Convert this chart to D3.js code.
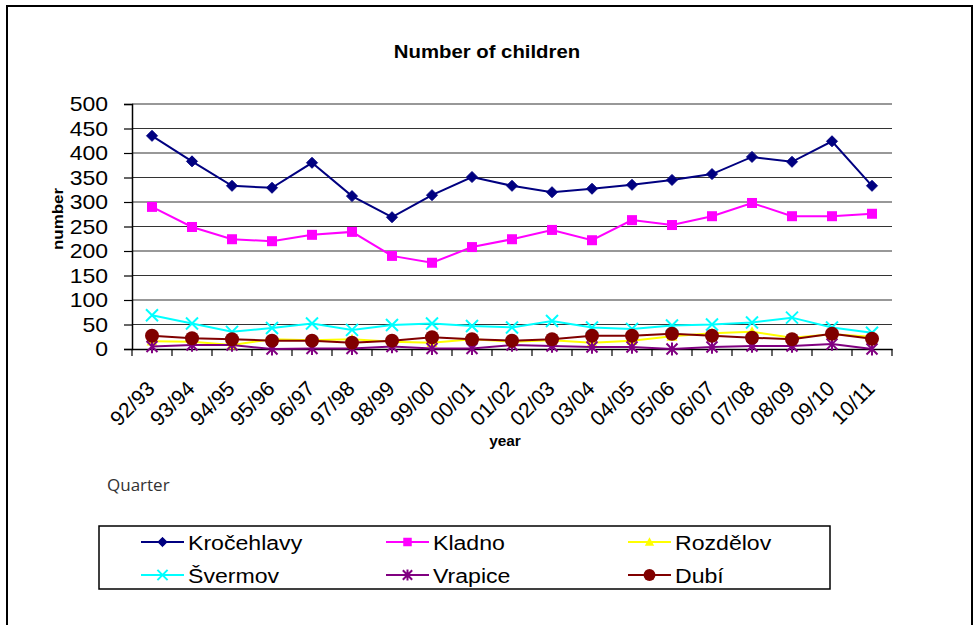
<!DOCTYPE html>
<html><head><meta charset="utf-8">
<script src="https://cdn.jsdelivr.net/npm/d3@7"></script>
<style>html,body{margin:0;padding:0;background:#fff;}svg{display:block;}</style>
</head><body>
<svg id="c" width="974" height="625"></svg>
<script>
const categories = ["92/93","93/94","94/95","95/96","96/97","97/98","98/99","99/00","00/01","01/02","02/03","03/04","04/05","05/06","06/07","07/08","08/09","09/10","10/11"];
const krocehlavy = [435,383,333,329,380,312,269,314,351,333,320,327,335,345,357,392,382,424,333];
const kladno     = [290,249,224,220,233,239,190,176,208,224,243,222,263,253,271,298,271,271,276];
const rozdelov   = [16,15,8,20,18,20,15,13,20,15,18,13,17,26,32,35,23,30,25];
const svermov    = [69,52,35,43,52,39,49,52,47,44,57,44,41,48,50,54,64,44,33];
const vrapice    = [5,8,8,0,1,1,5,1,1,8,6,4,4,0,4,6,6,10,0];
const dubi       = [27,22,20,17,17,13,17,24,20,17,20,27,27,31,27,23,20,31,21];
const yTicks = [0,50,100,150,200,250,300,350,400,450,500];
const seriesNames = ["Kročehlavy","Kladno","Rozdělov","Švermov","Vrapice","Dubí"];
const seriesColors = ["#000080","#FF00FF","#FFFF00","#00FFFF","#800080","#800000"];
const seriesMarkers = ["diamond","square","triangle","x","star","circle"];
const seriesValues = [krocehlavy,kladno,rozdelov,svermov,vrapice,dubi];

const svg = d3.select("#c");
const F = "Liberation Sans, Arial, sans-serif";
const SX = 1.15;

// outer frame
svg.append("rect").attr("x",7).attr("y",6).attr("width",965).attr("height",640)
  .attr("fill","none").attr("stroke","#000").attr("stroke-width",2);

const x = d3.scaleBand().domain(categories).range([132,892]).padding(0);
const y = d3.scaleLinear().domain([0,500]).range([349,104]);
const cx = d => x(d) + x.bandwidth()/2;

function stext(g, tx, ty, txt, size, opts={}) {
  const t = g.append("text").attr("transform",`translate(${tx},${ty}) scale(${opts.sx||SX},1)`)
    .attr("font-family",F).attr("font-size",size).attr("fill","#000")
    .attr("text-anchor",opts.anchor||"start").text(txt);
  if (opts.bold) t.attr("font-weight","bold");
  if (opts.dy) t.attr("dy",opts.dy);
  return t;
}

// title
stext(svg, 487, 58, "Number of children", 18, {anchor:"middle", bold:true, sx:1.13});

// gridlines
svg.append("g").selectAll("line").data(yTicks.filter(v=>v>0)).join("line")
  .attr("x1",132).attr("x2",892).attr("y1",d=>y(d)).attr("y2",d=>y(d))
  .attr("stroke","#333").attr("stroke-width",1.2);

// y axis
const yAxis = svg.append("g").attr("transform","translate(132,0)")
  .call(d3.axisLeft(y).tickValues(yTicks).tickSize(8).tickFormat(""));
yAxis.select(".domain").attr("stroke","#000").attr("stroke-width",1.5);
yAxis.selectAll(".tick line").attr("stroke","#000").attr("stroke-width",1.2);
const yl = svg.append("g");
yTicks.forEach(v => stext(yl, 108, y(v), String(v), 20, {anchor:"end", dy:"0.36em"}));

// x axis
const xAxis = svg.append("g").attr("transform","translate(0,349)")
  .call(d3.axisBottom(x).tickSize(0).tickFormat(""));
xAxis.select(".domain").attr("stroke","#000").attr("stroke-width",1.5);
svg.append("g").selectAll("line").data(d3.range(categories.length+1)).join("line")
  .attr("x1",i=>132+i*x.bandwidth()).attr("x2",i=>132+i*x.bandwidth())
  .attr("y1",349).attr("y2",356).attr("stroke","#000").attr("stroke-width",1.2);
svg.append("g").selectAll("text").data(categories).join("text")
  .attr("transform",d=>`translate(${cx(d)+4},390) rotate(-45)`)
  .attr("text-anchor","end").attr("font-family",F).attr("font-size",21).attr("fill","#000")
  .text(d=>d);

// axis titles
stext(svg, 505, 446, "year", 14, {anchor:"middle", bold:true, sx:1.1});
svg.append("text").attr("transform","translate(63,219) rotate(-90) scale(1.13,1)")
  .attr("text-anchor","middle").attr("font-family",F).attr("font-size",15)
  .attr("font-weight","bold").text("number");

// marker drawing
function marker(g, type, color, px, py, s) {
  switch(type) {
    case "diamond":
      g.append("path").attr("d",`M${px},${py-s}L${px+s},${py}L${px},${py+s}L${px-s},${py}Z`).attr("fill",color).attr("stroke",color);
      break;
    case "square":
      g.append("rect").attr("x",px-s).attr("y",py-s).attr("width",2*s).attr("height",2*s).attr("fill",color);
      break;
    case "triangle":
      g.append("path").attr("d",`M${px},${py-s}L${px+s},${py+s*0.8}L${px-s},${py+s*0.8}Z`).attr("fill",color);
      break;
    case "circle":
      g.append("circle").attr("cx",px).attr("cy",py).attr("r",s).attr("fill",color);
      break;
    case "x":
      g.append("path").attr("d",`M${px-s},${py-s}L${px+s},${py+s}M${px-s},${py+s}L${px+s},${py-s}`).attr("stroke",color).attr("stroke-width",2).attr("fill","none");
      break;
    case "star":
      g.append("path").attr("d",`M${px-s},${py-s}L${px+s},${py+s}M${px-s},${py+s}L${px+s},${py-s}M${px},${py-s*1.2}L${px},${py+s*1.2}`).attr("stroke",color).attr("stroke-width",2).attr("fill","none");
      break;
  }
}
const markerSize = {diamond:5.5, square:5, triangle:5.5, circle:7, x:6, star:5.5};

const line = d3.line().x((d,i)=>cx(categories[i])).y(d=>y(d));
seriesValues.forEach((vals, si) => {
  const g = svg.append("g");
  g.append("path").datum(vals).attr("d",line).attr("fill","none")
    .attr("stroke",seriesColors[si]).attr("stroke-width",2);
  vals.forEach((v,i) => marker(g, seriesMarkers[si], seriesColors[si], cx(categories[i]), y(v), markerSize[seriesMarkers[si]]));
});

// "Quarter" note
svg.append("text").attr("x",107).attr("y",491).attr("font-family","Open Sans, Lato, sans-serif")
  .attr("font-size",17).attr("fill","#333").text("Quarter");

// legend
svg.append("rect").attr("x",99).attr("y",526).attr("width",731).attr("height",63)
  .attr("fill","#fff").attr("stroke","#000").attr("stroke-width",1.5);
const legX = [141, 386, 628];
const legY = [542, 575];
seriesNames.forEach((name, si) => {
  const col = si % 3, row = Math.floor(si/3);
  const lx = legX[col], ly = legY[row];
  const g = svg.append("g");
  g.append("line").attr("x1",lx).attr("x2",lx+43).attr("y1",ly).attr("y2",ly)
    .attr("stroke",seriesColors[si]).attr("stroke-width",2);
  marker(g, seriesMarkers[si], seriesColors[si], lx+21.5, ly, markerSize[seriesMarkers[si]]*0.85);
  stext(g, lx+47, ly, name, 21, {dy:"0.36em", sx:1.1});
});
</script>
</body></html>
